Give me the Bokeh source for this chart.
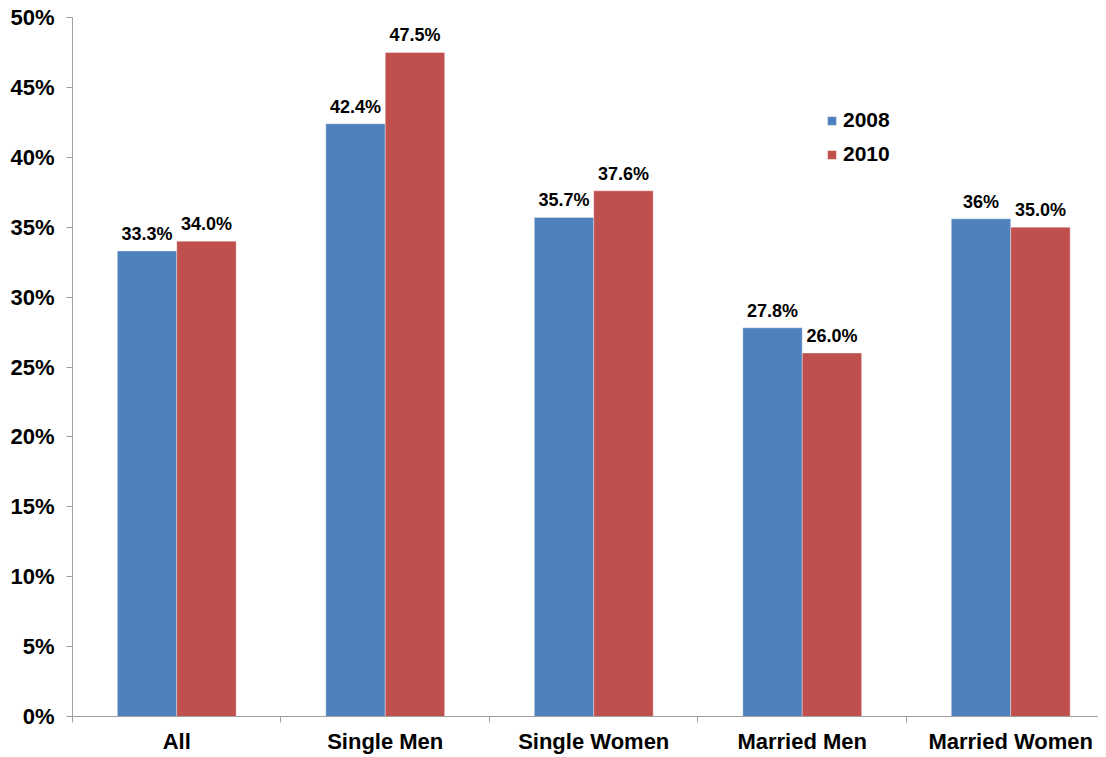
from bokeh.plotting import figure
from bokeh.models import (ColumnDataSource, Range1d, FixedTicker, LabelSet,
                          Legend, LegendItem)
from bokeh.core.properties import value
from bokeh.embed import file_html
from bokeh.resources import INLINE

categories = ["All", "Single Men", "Single Women", "Married Men", "Married Women"]
v2008 = [33.3, 42.4, 35.7, 27.8, 35.6]
v2010 = [34.0, 47.5, 37.6, 26.0, 35.0]
lab2008 = ["33.3%", "42.4%", "35.7%", "27.8%", "36%"]
lab2010 = ["34.0%", "47.5%", "37.6%", "26.0%", "35.0%"]
yticks = [0, 5, 10, 15, 20, 25, 30, 35, 40, 45, 50]

BLUE = "#4F81BD"
RED = "#C0504D"
FONT = "Liberation Sans"

bw = 0.285
centers = [i + 0.5 for i in range(len(categories))]
src08 = ColumnDataSource(dict(x=[c - bw / 2 for c in centers], top=v2008, lab=lab2008))
src10 = ColumnDataSource(dict(x=[c + bw / 2 for c in centers], top=v2010, lab=lab2010))

p = figure(width=1098, height=756, output_backend="svg", toolbar_location=None,
           x_range=Range1d(0, 4.921), y_range=Range1d(0, 50))
p.min_border_left = 72
p.min_border_right = 0
p.min_border_top = 17
p.min_border_bottom = 35
p.outline_line_color = None
p.background_fill_color = "white"
p.border_fill_color = "white"
p.grid.visible = False

r08 = p.vbar(x="x", top="top", width=bw, bottom=0, source=src08, fill_color=BLUE,
             line_color="white", line_alpha=0.35, line_width=1)
r10 = p.vbar(x="x", top="top", width=bw, bottom=0, source=src10, fill_color=RED,
             line_color="white", line_alpha=0.35, line_width=1)

for src in (src08, src10):
    p.add_layout(LabelSet(x="x", y="top", text="lab", source=src, text_align="center",
                          text_baseline="bottom", y_offset=7, text_font=value(FONT),
                          text_font_style="bold", text_font_size="18px", text_color="black"))

# x axis
p.xaxis.ticker = FixedTicker(ticks=centers, minor_ticks=list(range(len(categories) + 1)))
p.xaxis.major_label_overrides = {c: n for c, n in zip(centers, categories)}
p.xaxis.major_tick_out = 0
p.xaxis.major_tick_in = 0
p.xaxis.minor_tick_out = 6
p.xaxis.minor_tick_in = 0
p.xaxis.minor_tick_line_color = "#A0A0A0"
p.xaxis.axis_line_color = "#A0A0A0"
p.xaxis.major_label_standoff = 6
p.xaxis.major_label_text_font = FONT
p.xaxis.major_label_text_font_style = "bold"
p.xaxis.major_label_text_font_size = "22px"
p.xaxis.major_label_text_color = "black"

# y axis
p.yaxis.ticker = FixedTicker(ticks=yticks)
p.yaxis.major_label_overrides = {t: f"{t}%" for t in yticks}
p.yaxis.major_tick_out = 6
p.yaxis.major_tick_in = 0
p.yaxis.minor_tick_line_color = None
p.yaxis.major_tick_line_color = "#A0A0A0"
p.yaxis.axis_line_color = "#A0A0A0"
p.yaxis.major_label_standoff = 12
p.yaxis.major_label_text_font = FONT
p.yaxis.major_label_text_font_style = "bold"
p.yaxis.major_label_text_font_size = "22px"
p.yaxis.major_label_text_color = "black"

legend = Legend(items=[LegendItem(label="2008", renderers=[r08]),
                       LegendItem(label="2010", renderers=[r10])],
                location=(754, 550), orientation="vertical",
                glyph_width=11, glyph_height=11, label_height=20, spacing=10,
                padding=0, margin=0, label_standoff=6,
                label_text_font=FONT, label_text_font_style="bold",
                label_text_font_size="21px", label_text_color="black",
                border_line_color=None, background_fill_alpha=0)
p.add_layout(legend)

open("out.html", "w").write(file_html(p, INLINE))
